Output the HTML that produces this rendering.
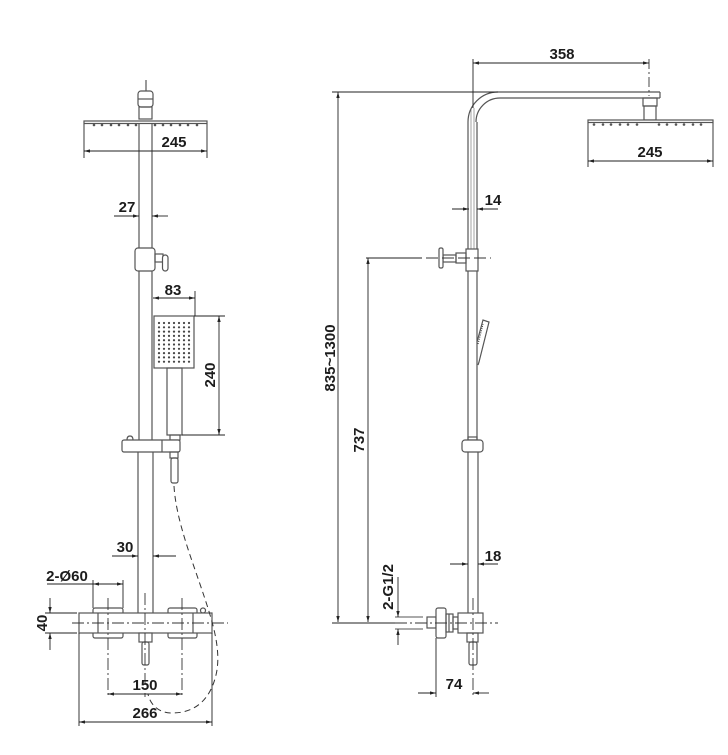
<!DOCTYPE html>
<html><head><meta charset="utf-8"><style>
html,body{margin:0;padding:0;background:#fff;}
svg{display:block;}
text{font-family:"Liberation Sans",sans-serif;font-weight:bold;font-size:15px;fill:#1c1c1c;}
</style></head><body>
<svg width="728" height="755" viewBox="0 0 728 755" xmlns="http://www.w3.org/2000/svg">
<defs>
<marker id="a" viewBox="0 0 10 10" refX="10" refY="5" markerWidth="6" markerHeight="6" orient="auto-start-reverse" markerUnits="userSpaceOnUse"><path d="M0,2.2 L10,5 L0,7.8z" fill="#222"/></marker>
</defs>

<!-- ================= LEFT FIGURE ================= -->
<g fill="none" stroke="#555" stroke-width="1.2">
  <line x1="146" y1="80" x2="146" y2="91" stroke="#333" stroke-width="1"/>
  <rect x="138" y="91" width="15" height="16" rx="3"/>
  <line x1="138" y1="99" x2="153" y2="99"/>
  <rect x="139" y="107" width="13" height="12"/>
  <rect x="84" y="121" width="123" height="2.5" fill="#fff"/>
  <line x1="139" y1="123" x2="139" y2="248"/>
  <line x1="152" y1="123" x2="152" y2="248"/>
  <line x1="139" y1="271" x2="139" y2="440"/>
  <line x1="152" y1="271" x2="152" y2="440"/>
  <line x1="138" y1="452" x2="138" y2="613"/>
  <line x1="153" y1="452" x2="153" y2="613"/>
  <rect x="135" y="248" width="20" height="23" rx="3" fill="#fff"/>
  <rect x="155" y="254" width="8" height="8"/>
  <rect x="162.5" y="255" width="5.5" height="16" rx="2.7" fill="#fff"/>
  <rect x="154" y="316" width="40" height="52"/>
  <rect x="167" y="368" width="15" height="67"/>
  <rect x="170" y="435" width="10" height="5"/>
  <path d="M127,440 Q127,436 130,436 Q133,436 133,440"/>
  <rect x="122" y="440" width="58" height="12" rx="2" fill="#fff"/>
  <line x1="162" y1="440" x2="162" y2="452"/>
  <rect x="170" y="452" width="8" height="6"/>
  <rect x="171" y="458" width="7" height="25" rx="2"/>
  <rect x="93" y="608" width="30" height="30" rx="2"/>
  <rect x="168" y="608" width="29" height="30" rx="2"/>
  <circle cx="203" cy="610.5" r="2.5" fill="#fff"/>
  <rect x="79" y="613" width="133" height="20" fill="#fff"/>
  <line x1="98" y1="613" x2="98" y2="633"/>
  <line x1="193" y1="613" x2="193" y2="633"/>
  <rect x="139" y="633" width="13" height="9" fill="#fff"/>
  <rect x="142" y="642" width="7" height="23" rx="2"/>
</g>
<g fill="#555">
  <circle cx="94" cy="125" r="1.3"/><circle cx="102" cy="125" r="1.3"/><circle cx="111" cy="125" r="1.3"/>
  <circle cx="119" cy="125" r="1.3"/><circle cx="128" cy="125" r="1.3"/><circle cx="136" cy="125" r="1.3"/>
  <circle cx="155" cy="125" r="1.3"/><circle cx="163" cy="125" r="1.3"/><circle cx="171" cy="125" r="1.3"/>
  <circle cx="180" cy="125" r="1.3"/><circle cx="188" cy="125" r="1.3"/><circle cx="197" cy="125" r="1.3"/>
</g>
<g fill="#444">
  <g id="row">
    <circle cx="159" cy="323" r="1.1"/><circle cx="164" cy="323" r="1.1"/><circle cx="169" cy="323" r="1.1"/>
    <circle cx="174" cy="323" r="1.1"/><circle cx="179" cy="323" r="1.1"/><circle cx="184" cy="323" r="1.1"/>
    <circle cx="189" cy="323" r="1.1"/>
  </g>
  <use href="#row" y="4.3"/><use href="#row" y="8.6"/><use href="#row" y="12.9"/><use href="#row" y="17.2"/>
  <use href="#row" y="21.5"/><use href="#row" y="25.8"/><use href="#row" y="30.1"/><use href="#row" y="34.4"/>
  <use href="#row" y="38.7"/>
</g>
<path d="M174,486 C176,520 192,560 203,593 C212,620 222,650 216,675 C210,700 195,713 172,713 C158,713 150,704 148,694" fill="none" stroke="#333" stroke-width="1" stroke-dasharray="6,4"/>
<g stroke="#333" stroke-width="0.9" stroke-dasharray="12,3,2,3" fill="none">
  <line x1="72" y1="623" x2="228" y2="623"/>
  <line x1="108" y1="598" x2="108" y2="697"/>
  <line x1="182" y1="598" x2="182" y2="697"/>
  <line x1="145" y1="593" x2="145" y2="697"/>
</g>
<g stroke="#222" stroke-width="0.9" fill="none">
  <line x1="84" y1="124" x2="84" y2="158"/>
  <line x1="207" y1="124" x2="207" y2="158"/>
  <line x1="84" y1="151" x2="207" y2="151" marker-start="url(#a)" marker-end="url(#a)"/>
  <line x1="114" y1="216" x2="139" y2="216" marker-end="url(#a)"/>
  <line x1="168" y1="216" x2="152" y2="216" marker-end="url(#a)"/>
  <line x1="195" y1="291" x2="195" y2="316"/>
  <line x1="153" y1="298" x2="195" y2="298" marker-start="url(#a)" marker-end="url(#a)"/>
  <line x1="194" y1="316" x2="225" y2="316"/>
  <line x1="182" y1="435" x2="225" y2="435"/>
  <line x1="219" y1="316" x2="219" y2="435" marker-start="url(#a)" marker-end="url(#a)"/>
  <line x1="112" y1="556" x2="138" y2="556" marker-end="url(#a)"/>
  <line x1="176" y1="556" x2="153" y2="556" marker-end="url(#a)"/>
  <line x1="47" y1="584" x2="93" y2="584"/>
  <line x1="93" y1="584" x2="123" y2="584" marker-start="url(#a)" marker-end="url(#a)"/>
  <line x1="93" y1="580" x2="93" y2="608"/>
  <line x1="123" y1="580" x2="123" y2="608"/>
  <line x1="45" y1="613" x2="77" y2="613"/>
  <line x1="45" y1="633" x2="77" y2="633"/>
  <line x1="50" y1="598" x2="50" y2="613" marker-end="url(#a)"/>
  <line x1="50" y1="650" x2="50" y2="633" marker-end="url(#a)"/>
  <line x1="108" y1="694" x2="182" y2="694" marker-start="url(#a)" marker-end="url(#a)"/>
  <line x1="79" y1="633" x2="79" y2="726"/>
  <line x1="212" y1="633" x2="212" y2="726"/>
  <line x1="79" y1="722" x2="212" y2="722" marker-start="url(#a)" marker-end="url(#a)"/>
</g>
<text x="174" y="147" text-anchor="middle">245</text>
<text x="127" y="212" text-anchor="middle">27</text>
<text x="173" y="295" text-anchor="middle">83</text>
<text transform="translate(215,375) rotate(-90)" text-anchor="middle">240</text>
<text x="125" y="552" text-anchor="middle">30</text>
<text x="67" y="581" text-anchor="middle">2-Ø60</text>
<text transform="translate(47,623) rotate(-90)" text-anchor="middle">40</text>
<text x="145" y="690" text-anchor="middle">150</text>
<text x="145" y="718" text-anchor="middle">266</text>

<!-- ================= RIGHT FIGURE ================= -->
<g fill="none" stroke="#555" stroke-width="1.2">
  <line x1="498" y1="92" x2="660" y2="92"/>
  <line x1="500" y1="98" x2="660" y2="98"/>
  <line x1="660" y1="92" x2="660" y2="98"/>
  <path d="M498,92 A30,30 0 0 0 468,122"/>
  <path d="M500,98 A24,24 0 0 0 476,122"/>
  <rect x="643" y="98" width="14" height="8"/>
  <rect x="644" y="106" width="12" height="14"/>
  <rect x="588" y="120" width="125" height="2.5" fill="#fff"/>
  <line x1="468" y1="122" x2="468" y2="249"/>
  <line x1="477" y1="122" x2="477" y2="249"/>
  <line x1="468" y1="271" x2="468" y2="440"/>
  <line x1="477" y1="271" x2="477" y2="440"/>
  <line x1="468" y1="452" x2="468" y2="613"/>
  <line x1="478" y1="452" x2="478" y2="613"/>
  <rect x="466" y="249" width="12" height="22" fill="#fff"/>
  <rect x="456" y="253" width="10" height="10"/>
  <rect x="443" y="255" width="13" height="7"/>
  <rect x="439" y="248" width="4" height="20" rx="1.5" fill="#fff"/>
  <path d="M477,342 L483,320 L489,322 L479,362 L478,365"/>
  <rect x="468" y="437" width="9" height="3"/>
  <rect x="462" y="440" width="21" height="12" rx="3" fill="#fff"/>
  <line x1="395" y1="617" x2="423" y2="617" stroke-width="1"/>
  <line x1="395" y1="629" x2="423" y2="629" stroke-width="1"/>
  <rect x="427" y="617" width="9" height="11"/>
  <rect x="436" y="608" width="10" height="30" rx="2" fill="#fff"/>
  <rect x="446" y="614" width="7" height="18"/>
  <line x1="449" y1="614" x2="449" y2="632"/>
  <rect x="453" y="617" width="5" height="12"/>
  <rect x="458" y="613" width="25" height="20" fill="#fff"/>
  <rect x="467" y="633" width="11" height="9"/>
  <rect x="469" y="642" width="8" height="23" rx="2"/>
</g>
<g stroke="#666" stroke-width="0.6">
  <line x1="471" y1="108" x2="471" y2="249"/>
  <line x1="474" y1="108" x2="474" y2="249"/>
</g>
<path d="M478,344 L483,324" stroke="#444" stroke-width="1.2" stroke-dasharray="1,1.2"/>
<g fill="#555">
  <circle cx="594" cy="124.5" r="1.3"/><circle cx="603" cy="124.5" r="1.3"/><circle cx="611" cy="124.5" r="1.3"/>
  <circle cx="620" cy="124.5" r="1.3"/><circle cx="628" cy="124.5" r="1.3"/><circle cx="637" cy="124.5" r="1.3"/>
  <circle cx="659" cy="124.5" r="1.3"/><circle cx="667" cy="124.5" r="1.3"/><circle cx="676" cy="124.5" r="1.3"/>
  <circle cx="684" cy="124.5" r="1.3"/><circle cx="693" cy="124.5" r="1.3"/><circle cx="701" cy="124.5" r="1.3"/>
</g>
<g stroke="#333" stroke-width="0.9" fill="none">
  <line x1="649" y1="59" x2="649" y2="96" stroke-dasharray="10,3,2,3"/>
  <line x1="426" y1="258" x2="491" y2="258" stroke-dasharray="12,4"/>
  <line x1="395" y1="623" x2="498" y2="623" stroke-dasharray="12,3,2,3"/>
  <line x1="473" y1="598" x2="473" y2="695" stroke-dasharray="12,3,2,3"/>
</g>
<g stroke="#222" stroke-width="0.9" fill="none">
  <line x1="473" y1="59" x2="473" y2="108"/>
  <line x1="473" y1="63" x2="649" y2="63" marker-start="url(#a)" marker-end="url(#a)"/>
  <line x1="332" y1="92" x2="498" y2="92"/>
  <line x1="588" y1="123" x2="588" y2="167"/>
  <line x1="713" y1="123" x2="713" y2="167"/>
  <line x1="588" y1="161" x2="713" y2="161" marker-start="url(#a)" marker-end="url(#a)"/>
  <line x1="452" y1="209" x2="469" y2="209" marker-end="url(#a)"/>
  <line x1="498" y1="209" x2="477" y2="209" marker-end="url(#a)"/>
  <line x1="366" y1="258" x2="422" y2="258"/>
  <line x1="338" y1="92" x2="338" y2="622" marker-start="url(#a)" marker-end="url(#a)"/>
  <line x1="368" y1="258" x2="368" y2="622" marker-start="url(#a)" marker-end="url(#a)"/>
  <line x1="332" y1="623" x2="395" y2="623"/>
  <line x1="450" y1="564" x2="468" y2="564" marker-end="url(#a)"/>
  <line x1="498" y1="564" x2="478" y2="564" marker-end="url(#a)"/>
  <line x1="398" y1="577" x2="398" y2="617" marker-end="url(#a)"/>
  <line x1="398" y1="645" x2="398" y2="629" marker-end="url(#a)"/>
  <line x1="436" y1="638" x2="436" y2="697"/>
  <line x1="418" y1="693" x2="436" y2="693" marker-end="url(#a)"/>
  <line x1="489" y1="693" x2="473" y2="693" marker-end="url(#a)"/>
</g>
<text x="562" y="59" text-anchor="middle">358</text>
<text x="650" y="157" text-anchor="middle">245</text>
<text x="493" y="205" text-anchor="middle">14</text>
<text transform="translate(335,358) rotate(-90)" text-anchor="middle">835~1300</text>
<text transform="translate(364,440) rotate(-90)" text-anchor="middle">737</text>
<text x="493" y="561" text-anchor="middle">18</text>
<text transform="translate(393,587) rotate(-90)" text-anchor="middle">2-G1/2</text>
<text x="454" y="689" text-anchor="middle">74</text>
</svg>
</body></html>
